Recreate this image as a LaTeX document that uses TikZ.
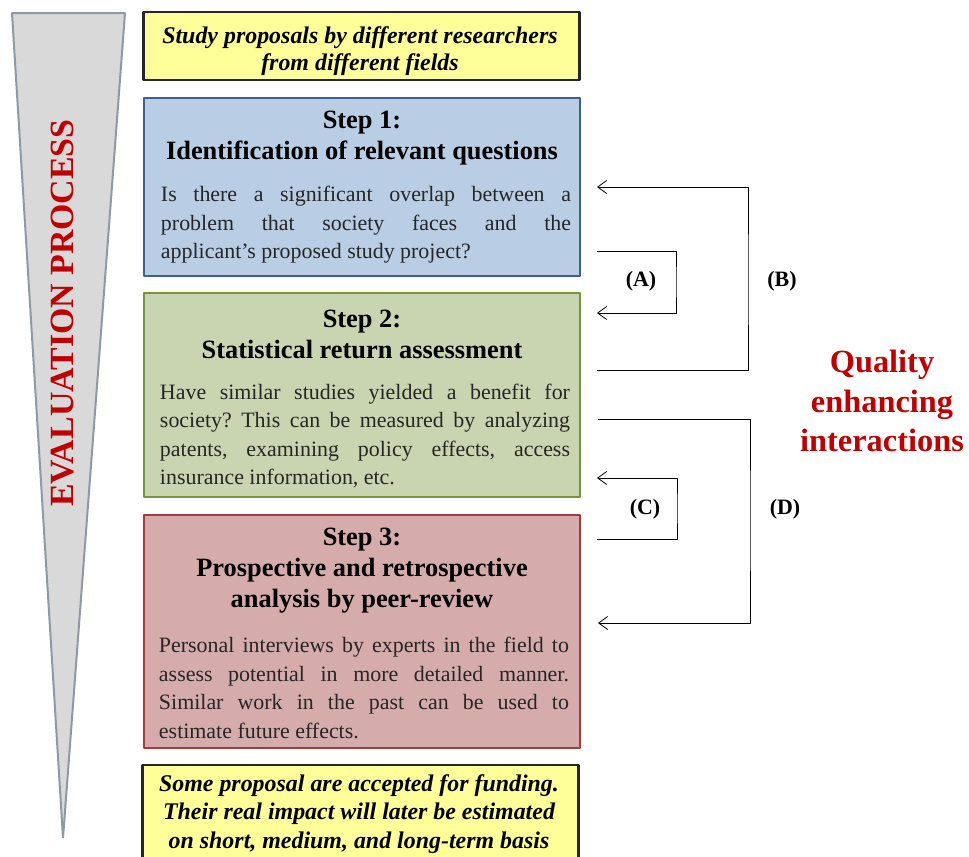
\documentclass[tikz,border=0pt]{standalone}
\usepackage{fontspec}
\setmainfont{Liberation Serif}
\usetikzlibrary{positioning,arrows.meta}
\frenchspacing

\definecolor{noteyellow}{HTML}{FFFF99}
\definecolor{noteframe}{HTML}{262626}
\definecolor{bluefill}{HTML}{B9CDE5}
\definecolor{blueframe}{HTML}{3F5F8F}
\definecolor{greenfill}{HTML}{C9D5B1}
\definecolor{greenframe}{HTML}{77933C}
\definecolor{redfill}{HTML}{D5ABAB}
\definecolor{redframe}{HTML}{A33C3B}
\definecolor{funnelfill}{HTML}{D9D9D9}
\definecolor{funnelframe}{HTML}{8F99A6}
\definecolor{headred}{HTML}{C00000}
\definecolor{bodygray}{HTML}{262626}

\begin{document}
\begin{tikzpicture}[x=1bp,y=-1bp,>={Straight Barb[length=9bp,width=13bp]},line join=bevel,
  notebox/.style={draw=noteframe,fill=noteyellow,line width=2.5bp,minimum width=436bp,inner sep=0pt},
  stepbox/.style={line width=2.5bp,minimum width=436bp,inner sep=0pt},
  notetext/.style={align=center,inner sep=0pt,font=\fontsize{24}{27}\selectfont\bfseries\itshape},
  steptitle/.style={align=center,inner sep=0pt,font=\fontsize{26.5}{31}\selectfont\bfseries},
  stepbody/.style={text width=410bp,align=justify,inner sep=0pt,text=bodygray,font=\fontsize{22}{28.5}\selectfont},
  loopline/.style={black,line width=0.8bp,->},
  looplabel/.style={inner sep=0pt,font=\fontsize{22}{24}\selectfont\bfseries},
]
\useasboundingbox (0,0) rectangle (969,857);
%% funnel on the left
\filldraw [fill=funnelfill,draw=funnelframe,line width=2bp] (12,13) -- (125,13) -- (63,838) -- cycle;
\node (process) at (63,313) [rotate=90,inner sep=0pt,text=headred,font=\fontsize{34}{36}\selectfont\bfseries] {EVALUATION PROCESS};
%% boxes
\node (proposals) at (361.5,46) [notebox,minimum height=68bp] {};
\node (step1) at (362,187) [stepbox,draw=blueframe,fill=bluefill,minimum height=178bp] {};
\node (step2) at (362,395) [stepbox,draw=greenframe,fill=greenfill,minimum height=204bp] {};
\node (step3) at (362,631.5) [stepbox,draw=redframe,fill=redfill,minimum height=233bp] {};
\node (funding) at (360.5,817) [notebox,minimum height=104bp] {};
%% texts
\node (proposalstext) at (360,51) [notetext] {Study proposals by different researchers\\from different fields};
\node (step1title) at (362,138) [steptitle] {Step 1:\\Identification of relevant questions};
\node (step1body) at (366,225) [stepbody] {Is there a significant overlap between a\linebreak problem that society faces and the\linebreak applicant’s proposed study project?};
\node (step2title) at (362,334) [steptitle] {Step 2:\\Statistical return assessment};
\node (step2body) at (365,436) [stepbody] {Have similar studies yielded a benefit for\linebreak society? This can be measured by analyzing\linebreak patents, examining policy effects, access\linebreak insurance information, etc.};
\node (step3title) at (362,570.5) [steptitle] {Step 3:\\Prospective and retrospective\\analysis by peer-review};
\node (step3body) at (364,688) [stepbody] {Personal interviews by experts in the field to\linebreak assess potential in more detailed manner.\linebreak Similar work in the past can be used to\linebreak estimate future effects.};
\node (fundingtext) at (359,814) [notetext,font=\fontsize{24}{28.5}\selectfont\bfseries\itshape] {Some proposal are accepted for funding.\\Their real impact will later be estimated\\on short, medium, and long-term basis};
\node (quality) at (882,401) [align=center,inner sep=0pt,text=headred,font=\fontsize{32.5}{40}\selectfont\bfseries] {Quality\\enhancing\\interactions};
%% interaction loops
\coordinate (a1) at (597,251);
\coordinate (a2) at (597,313);
\coordinate (amid) at (676,282);
\coordinate (b1) at (597,370);
\coordinate (b2) at (597,187);
\coordinate (bmid) at (748,280);
\coordinate (c1) at (597,539);
\coordinate (c2) at (597,478);
\coordinate (cmid) at (677,508);
\coordinate (d1) at (598,419);
\coordinate (d2) at (598,623);
\coordinate (dmid) at (750,520);
\draw [loopline] (a1) -| (amid) |- (a2);
\draw [loopline] (b1) -| (bmid) |- (b2);
\draw [loopline] (c1) -| (cmid) |- (c2);
\draw [loopline] (d1) -| (dmid) |- (d2);
\node (labelA) at (641,281) [looplabel] {(A)};
\node (labelB) at (782,281) [looplabel] {(B)};
\node (labelC) at (645,509) [looplabel] {(C)};
\node (labelD) at (785,509) [looplabel] {(D)};
%
\end{tikzpicture}
\end{document}
